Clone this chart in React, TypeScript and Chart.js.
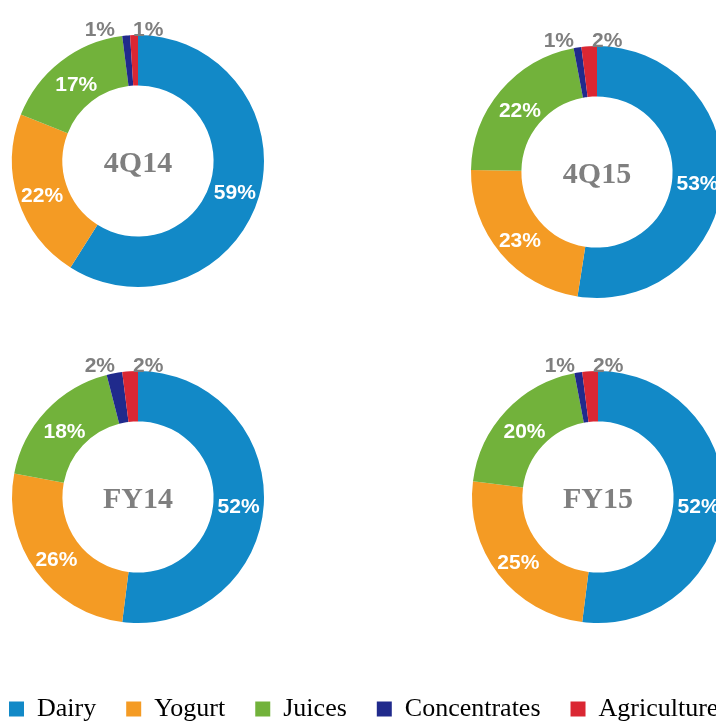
import React, { useEffect, useRef } from 'react';
import { Chart, registerables } from 'chart.js';

Chart.register(...registerables);

const categories = ['Dairy', 'Yogurt', 'Juices', 'Concentrates', 'Agriculture'];
const periods = ['4Q14', '4Q15', 'FY14', 'FY15'];
const share4Q14 = [59, 22, 17, 1, 1];
const share4Q15 = [53, 23, 22, 1, 2];
const shareFY14 = [52, 26, 18, 2, 2];
const shareFY15 = [52, 25, 20, 1, 2];
const shares = [share4Q14, share4Q15, shareFY14, shareFY15];

const colors = ['#1289C7', '#F49B24', '#72B23B', '#202A8C', '#DA2733'];

const RADIUS = 126;
const PAD = 40;
const SIZE = RADIUS * 2 + PAD * 2;
const centers = [
  { cx: 138, cy: 161 },
  { cx: 597, cy: 172 },
  { cx: 138, cy: 497 },
  { cx: 598, cy: 497 },
];

const labelPlugin = {
  id: 'sliceLabels',
  afterDatasetsDraw(chart: any, _args: any, opts: any) {
    const ctx = chart.ctx;
    const meta = chart.getDatasetMeta(0);
    const data = chart.data.datasets[0].data as number[];
    const first = meta.data[0] as any;
    const cx = first.x;
    const cy = first.y;
    const R = first.outerRadius;
    const last = data.length - 1;
    ctx.save();
    ctx.font = 'bold 21px "Liberation Sans", Arial, sans-serif';
    meta.data.forEach((arc: any, i: number) => {
      const v = data[i];
      const text = v + '%';
      if (v >= 5) {
        const p = arc.tooltipPosition();
        ctx.fillStyle = '#ffffff';
        ctx.textAlign = 'center';
        ctx.textBaseline = 'middle';
        ctx.fillText(text, p.x, p.y + 4);
      } else {
        ctx.fillStyle = '#7F7F7F';
        ctx.textBaseline = 'alphabetic';
        if (i === last) {
          ctx.textAlign = 'left';
          ctx.fillText(text, cx - 5, cy - R + 1);
        } else {
          ctx.textAlign = 'right';
          ctx.fillText(text, cx - 23, cy - R + 1);
        }
      }
    });
    ctx.font = 'bold 30px "Liberation Serif", "Times New Roman", serif';
    ctx.fillStyle = '#7F7F7F';
    ctx.textAlign = 'center';
    ctx.textBaseline = 'middle';
    ctx.fillText(opts.title, cx, cy + 3);
    ctx.restore();
  },
};

function Donut({ title, values, cx, cy }: { title: string; values: number[]; cx: number; cy: number }) {
  const ref = useRef<HTMLCanvasElement>(null);
  useEffect(() => {
    const chart = new Chart(ref.current as HTMLCanvasElement, {
      type: 'doughnut',
      data: {
        labels: categories,
        datasets: [{ data: values, backgroundColor: colors, borderWidth: 0 }],
      },
      options: {
        responsive: false,
        animation: false,
        cutout: '60%',
        layout: { padding: PAD },
        plugins: {
          legend: { display: false },
          tooltip: { enabled: false },
          sliceLabels: { title },
        } as any,
      },
      plugins: [labelPlugin as any],
    });
    return () => chart.destroy();
  }, []);
  return (
    <canvas
      ref={ref}
      width={SIZE}
      height={SIZE}
      style={{ position: 'absolute', left: Math.round(cx - SIZE / 2), top: Math.round(cy - SIZE / 2) }}
    />
  );
}

function Legend() {
  const ref = useRef<HTMLCanvasElement>(null);
  useEffect(() => {
    const chart = new Chart(ref.current as HTMLCanvasElement, {
      type: 'bar',
      data: {
        labels: [],
        datasets: categories.map((c, i) => ({ label: c, data: [], backgroundColor: colors[i], borderWidth: 0 })),
      },
      options: {
        responsive: false,
        animation: false,
        scales: { x: { display: false }, y: { display: false } },
        plugins: {
          tooltip: { enabled: false },
          legend: {
            position: 'top',
            align: 'start',
            labels: {
              boxWidth: 15,
              boxHeight: 15,
              padding: 30,
              color: '#000000',
              font: { family: '"Liberation Serif", "Times New Roman", serif', size: 26 },
            },
          },
        },
      },
    });
    return () => chart.destroy();
  }, []);
  return <canvas ref={ref} width={900} height={200} style={{ position: 'absolute', left: -21, top: 666 }} />;
}

export default function App() {
  return (
    <div
      style={{
        position: 'absolute',
        left: 0,
        top: 0,
        width: 716,
        height: 722,
        overflow: 'hidden',
        background: '#ffffff',
      }}
    >
      {periods.map((p, i) => (
        <Donut key={p} title={p} values={shares[i]} cx={centers[i].cx} cy={centers[i].cy} />
      ))}
      <Legend />
    </div>
  );
}
